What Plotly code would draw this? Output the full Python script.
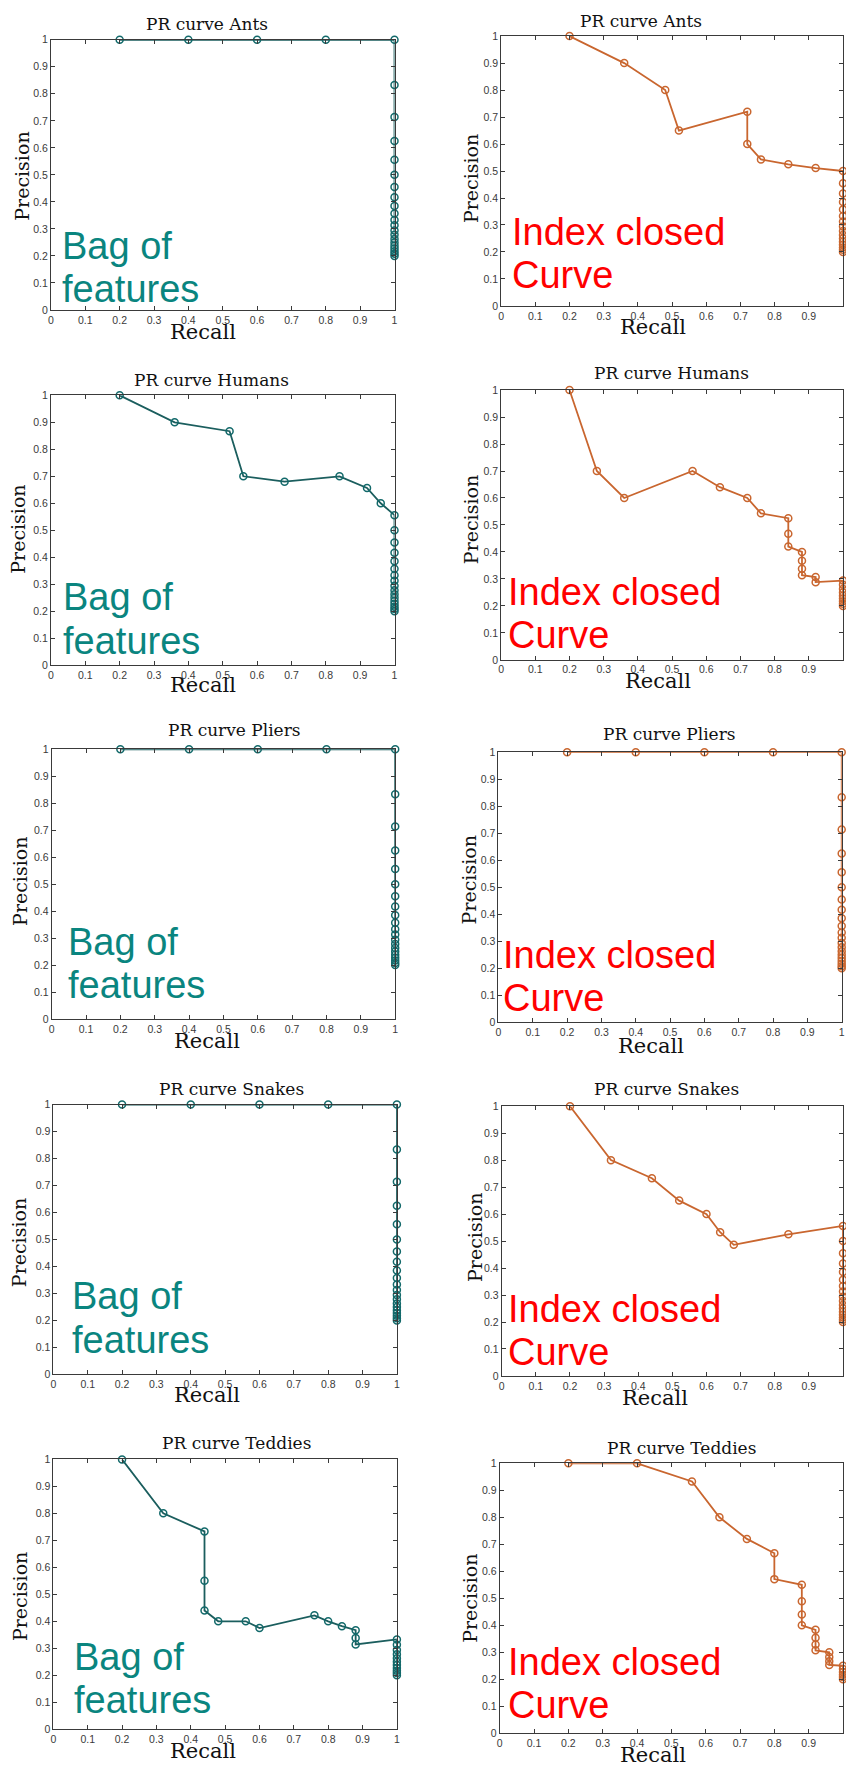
import plotly.graph_objects as go

# ---------------- data ----------------
ants_bof_recall = [0.2, 0.4, 0.6, 0.8, 1, 1, 1, 1, 1, 1, 1, 1, 1, 1, 1, 1, 1, 1, 1, 1, 1, 1, 1, 1, 1]
ants_bof_prec = [1, 1, 1, 1, 1, 0.833, 0.714, 0.625, 0.556, 0.5, 0.455, 0.417, 0.385, 0.357, 0.333,
                 0.313, 0.294, 0.278, 0.263, 0.25, 0.238, 0.227, 0.217, 0.208, 0.2]

ants_icc_recall = [0.2, 0.36, 0.48, 0.52, 0.72, 0.72, 0.76, 0.84, 0.92, 1, 1, 1, 1, 1, 1, 1, 1,
                   1, 1, 1, 1, 1, 1, 1, 1]
ants_icc_prec = [1, 0.9, 0.8, 0.65, 0.72, 0.6, 0.543, 0.525, 0.511, 0.5, 0.455, 0.417, 0.385, 0.357,
                 0.333, 0.313, 0.294, 0.278, 0.263, 0.25, 0.238, 0.227, 0.217, 0.208, 0.2]

humans_bof_recall = [0.2, 0.36, 0.52, 0.56, 0.68, 0.84, 0.92, 0.96, 1, 1, 1, 1, 1, 1, 1, 1, 1,
                     1, 1, 1, 1, 1, 1, 1, 1]
humans_bof_prec = [1, 0.9, 0.867, 0.7, 0.68, 0.7, 0.657, 0.6, 0.556, 0.5, 0.455, 0.417, 0.385,
                   0.357, 0.333, 0.313, 0.294, 0.278, 0.263, 0.25, 0.238, 0.227, 0.217, 0.208, 0.2]

humans_icc_recall = [0.2, 0.28, 0.36, 0.56, 0.64, 0.72, 0.76, 0.84, 0.84, 0.84, 0.88, 0.88, 0.88,
                     0.88, 0.92, 0.92, 1, 1, 1, 1, 1, 1, 1, 1, 1]
humans_icc_prec = [1, 0.7, 0.6, 0.7, 0.64, 0.6, 0.543, 0.525, 0.467, 0.42, 0.4, 0.367, 0.338,
                   0.314, 0.307, 0.288, 0.294, 0.278, 0.263, 0.25, 0.238, 0.227, 0.217, 0.208, 0.2]

pliers_bof_recall = [0.2, 0.4, 0.6, 0.8, 1, 1, 1, 1, 1, 1, 1, 1, 1, 1, 1, 1, 1, 1, 1, 1, 1, 1, 1, 1, 1]
pliers_bof_prec = [1, 1, 1, 1, 1, 0.833, 0.714, 0.625, 0.556, 0.5, 0.455, 0.417, 0.385, 0.357, 0.333,
                   0.313, 0.294, 0.278, 0.263, 0.25, 0.238, 0.227, 0.217, 0.208, 0.2]

pliers_icc_recall = [0.2, 0.4, 0.6, 0.8, 1, 1, 1, 1, 1, 1, 1, 1, 1, 1, 1, 1, 1, 1, 1, 1, 1, 1, 1, 1, 1]
pliers_icc_prec = [1, 1, 1, 1, 1, 0.833, 0.714, 0.625, 0.556, 0.5, 0.455, 0.417, 0.385, 0.357, 0.333,
                   0.313, 0.294, 0.278, 0.263, 0.25, 0.238, 0.227, 0.217, 0.208, 0.2]

snakes_bof_recall = [0.2, 0.4, 0.6, 0.8, 1, 1, 1, 1, 1, 1, 1, 1, 1, 1, 1, 1, 1, 1, 1, 1, 1, 1, 1, 1, 1]
snakes_bof_prec = [1, 1, 1, 1, 1, 0.833, 0.714, 0.625, 0.556, 0.5, 0.455, 0.417, 0.385, 0.357, 0.333,
                   0.313, 0.294, 0.278, 0.263, 0.25, 0.238, 0.227, 0.217, 0.208, 0.2]

snakes_icc_recall = [0.2, 0.32, 0.44, 0.52, 0.6, 0.64, 0.68, 0.84, 1, 1, 1, 1, 1, 1, 1, 1, 1,
                     1, 1, 1, 1, 1, 1, 1, 1]
snakes_icc_prec = [1, 0.8, 0.733, 0.65, 0.6, 0.533, 0.486, 0.525, 0.556, 0.5, 0.455, 0.417, 0.385,
                   0.357, 0.333, 0.313, 0.294, 0.278, 0.263, 0.25, 0.238, 0.227, 0.217, 0.208, 0.2]

teddies_bof_recall = [0.2, 0.32, 0.44, 0.44, 0.44, 0.48, 0.56, 0.6, 0.76, 0.8, 0.84, 0.88, 0.88,
                      0.88, 1, 1, 1, 1, 1, 1, 1, 1, 1, 1, 1]
teddies_bof_prec = [1, 0.8, 0.733, 0.55, 0.44, 0.4, 0.4, 0.375, 0.422, 0.4, 0.382, 0.367, 0.338,
                    0.314, 0.333, 0.313, 0.294, 0.278, 0.263, 0.25, 0.238, 0.227, 0.217, 0.208, 0.2]

teddies_icc_recall = [0.2, 0.4, 0.56, 0.64, 0.72, 0.8, 0.8, 0.88, 0.88, 0.88, 0.88, 0.92, 0.92,
                      0.92, 0.92, 0.96, 0.96, 0.96, 0.96, 1, 1, 1, 1, 1, 1]
teddies_icc_prec = [1, 1, 0.933, 0.8, 0.72, 0.667, 0.571, 0.55, 0.489, 0.44, 0.4, 0.383, 0.354,
                    0.329, 0.307, 0.3, 0.282, 0.267, 0.253, 0.25, 0.238, 0.227, 0.217, 0.208, 0.2]

titles = ["PR curve Ants", "PR curve Humans", "PR curve Pliers", "PR curve Snakes", "PR curve Teddies"]
left_label = ["Bag of", "features"]
right_label = ["Index closed", "Curve"]
x_title = "Recall"
y_title = "Precision"

series = [
    (ants_bof_recall, ants_bof_prec), (ants_icc_recall, ants_icc_prec),
    (humans_bof_recall, humans_bof_prec), (humans_icc_recall, humans_icc_prec),
    (pliers_bof_recall, pliers_bof_prec), (pliers_icc_recall, pliers_icc_prec),
    (snakes_bof_recall, snakes_bof_prec), (snakes_icc_recall, snakes_icc_prec),
    (teddies_bof_recall, teddies_bof_prec), (teddies_icc_recall, teddies_icc_prec),
]

# ---------------- layout geometry (pixels) ----------------
W, H = 846, 1771
# L, x-of-recall-1, T, B, title(x,y), recall(x,y), precision(x,y), text-left, baseline1, baseline2
geom = [
    (48.3, 394.3, 34.0, 306.0, (205, 18.3), (201.7, 328.3), (18.3, 171.7), 59.5, 255.0, 297.7),
    (501.7, 847.6, 30.3, 302.0, (643, 15.0), (654.7, 322.7), (471.3, 173.3), 513.0, 240.7, 284.0),
    (48.3, 394.3, 392.0, 663.7, (210, 376.7), (201.7, 684.0), (15.7, 526.7), 60.5, 608.3, 652.7),
    (501.7, 847.7, 386.7, 658.3, (673, 369.3), (659.7, 680.0), (471.3, 516.7), 509.0, 603.3, 646.7),
    (49.0, 395.0, 748.3, 1020.0, (233.3, 729.3), (205, 1041.7), (17.3, 881.7), 65.0, 955.0, 998.3),
    (499.0, 844.7, 751.3, 1023.3, (671.3, 733.3), (653, 1046.7), (469.7, 880.0), 504.0, 968.3, 1011.7),
    (50.7, 396.7, 1106.0, 1377.7, (230, 1090.0), (205.7, 1398.3), (15.7, 1245.0), 69.5, 1311.7, 1356.0),
    (502.3, 848.3, 1107.7, 1379.3, (668, 1090.7), (656.3, 1401.7), (474.7, 1240.0), 509.0, 1325.0, 1367.7),
    (50.7, 396.7, 1463.3, 1735.0, (235, 1447.3), (201.7, 1757.3), (17.3, 1601.7), 71.7, 1675.7, 1719.0),
    (500.3, 846.5, 1467.3, 1739.0, (683, 1452.3), (654.7, 1760.7), (470.3, 1602.7), 509.0, 1680.0, 1723.3),
]

BOF_LINE = "#1b5e5e"
BOF_MARK = "#12696a"
ICC_LINE = "#c9662f"
BOF_TEXT = "#0a857f"
ICC_TEXT = "#ff0000"
AX = "#3a3a3a"


def px(x):
    return x / W


def py(y):
    return 1 - y / H


fig = go.Figure()
annotations = []
layout_axes = {}

for i, ((rx, pr), g) in enumerate(zip(series, geom)):
    n = i + 1
    sfx = "" if n == 1 else str(n)
    L, xr, T, B, tpos, rpos, ppos, tl, b1, b2 = g
    is_right = (i % 2 == 1)
    xr_c = min(xr, W)
    line_col = ICC_LINE if is_right else BOF_LINE
    mark_col = ICC_LINE if is_right else BOF_MARK

    fig.add_trace(go.Scatter(
        x=rx, y=pr, mode="lines+markers",
        line=dict(color=line_col, width=1.8),
        marker=dict(symbol="circle-open", size=7, color=mark_col, line=dict(width=1.5, color=mark_col)),
        xaxis="x" + sfx, yaxis="y" + sfx, cliponaxis=False, showlegend=False,
        hoverinfo="x+y",
    ))

    common = dict(showline=True, linecolor=AX, linewidth=1, mirror="allticks",
                  ticks="inside", ticklen=4, tickcolor=AX, tickwidth=1,
                  showgrid=False, zeroline=False, fixedrange=True,
                  tickfont=dict(family="Liberation Sans, Arial, sans-serif", size=10.5, color="#3a3a3a"))
    layout_axes["xaxis" + sfx] = dict(domain=[px(L), px(xr_c)], range=[0, 1], anchor="y" + sfx,
                                      tick0=0, dtick=0.1, **common)
    layout_axes["yaxis" + sfx] = dict(domain=[py(B), py(T)], range=[0, 1], anchor="x" + sfx,
                                      tick0=0, dtick=0.1, **common)

    annotations.append(dict(text=titles[i // 2], x=px(tpos[0]), y=py(tpos[1]), xref="paper", yref="paper",
                            xanchor="center", yanchor="middle", showarrow=False,
                            font=dict(family="DejaVu Serif, serif", size=17, color="#111111")))
    annotations.append(dict(text=x_title, x=px(rpos[0]), y=py(rpos[1]), xref="paper", yref="paper",
                            xanchor="center", yanchor="middle", showarrow=False,
                            font=dict(family="DejaVu Serif, serif", size=21, color="#111111")))
    annotations.append(dict(text=y_title, x=px(ppos[0]), y=py(ppos[1]), xref="paper", yref="paper",
                            xanchor="center", yanchor="middle", showarrow=False, textangle=-90,
                            font=dict(family="DejaVu Serif, serif", size=19, color="#111111")))
    lbl = right_label if is_right else left_label
    col = ICC_TEXT if is_right else BOF_TEXT
    for txt, base in zip(lbl, (b1, b2)):
        annotations.append(dict(text=txt, x=px(tl - 2), y=py(base - 13), xref="paper", yref="paper",
                                xanchor="left", yanchor="middle", showarrow=False,
                                font=dict(family="Liberation Sans, Arial, sans-serif", size=38, color=col)))

fig.update_layout(
    width=W, height=H, margin=dict(l=0, r=0, t=0, b=0),
    paper_bgcolor="white", plot_bgcolor="white",
    annotations=annotations, showlegend=False,
    **layout_axes,
)

fig.write_html("out.html", config={"displayModeBar": False},
               post_script="document.body.style.margin='0';document.body.style.overflow='hidden';")
